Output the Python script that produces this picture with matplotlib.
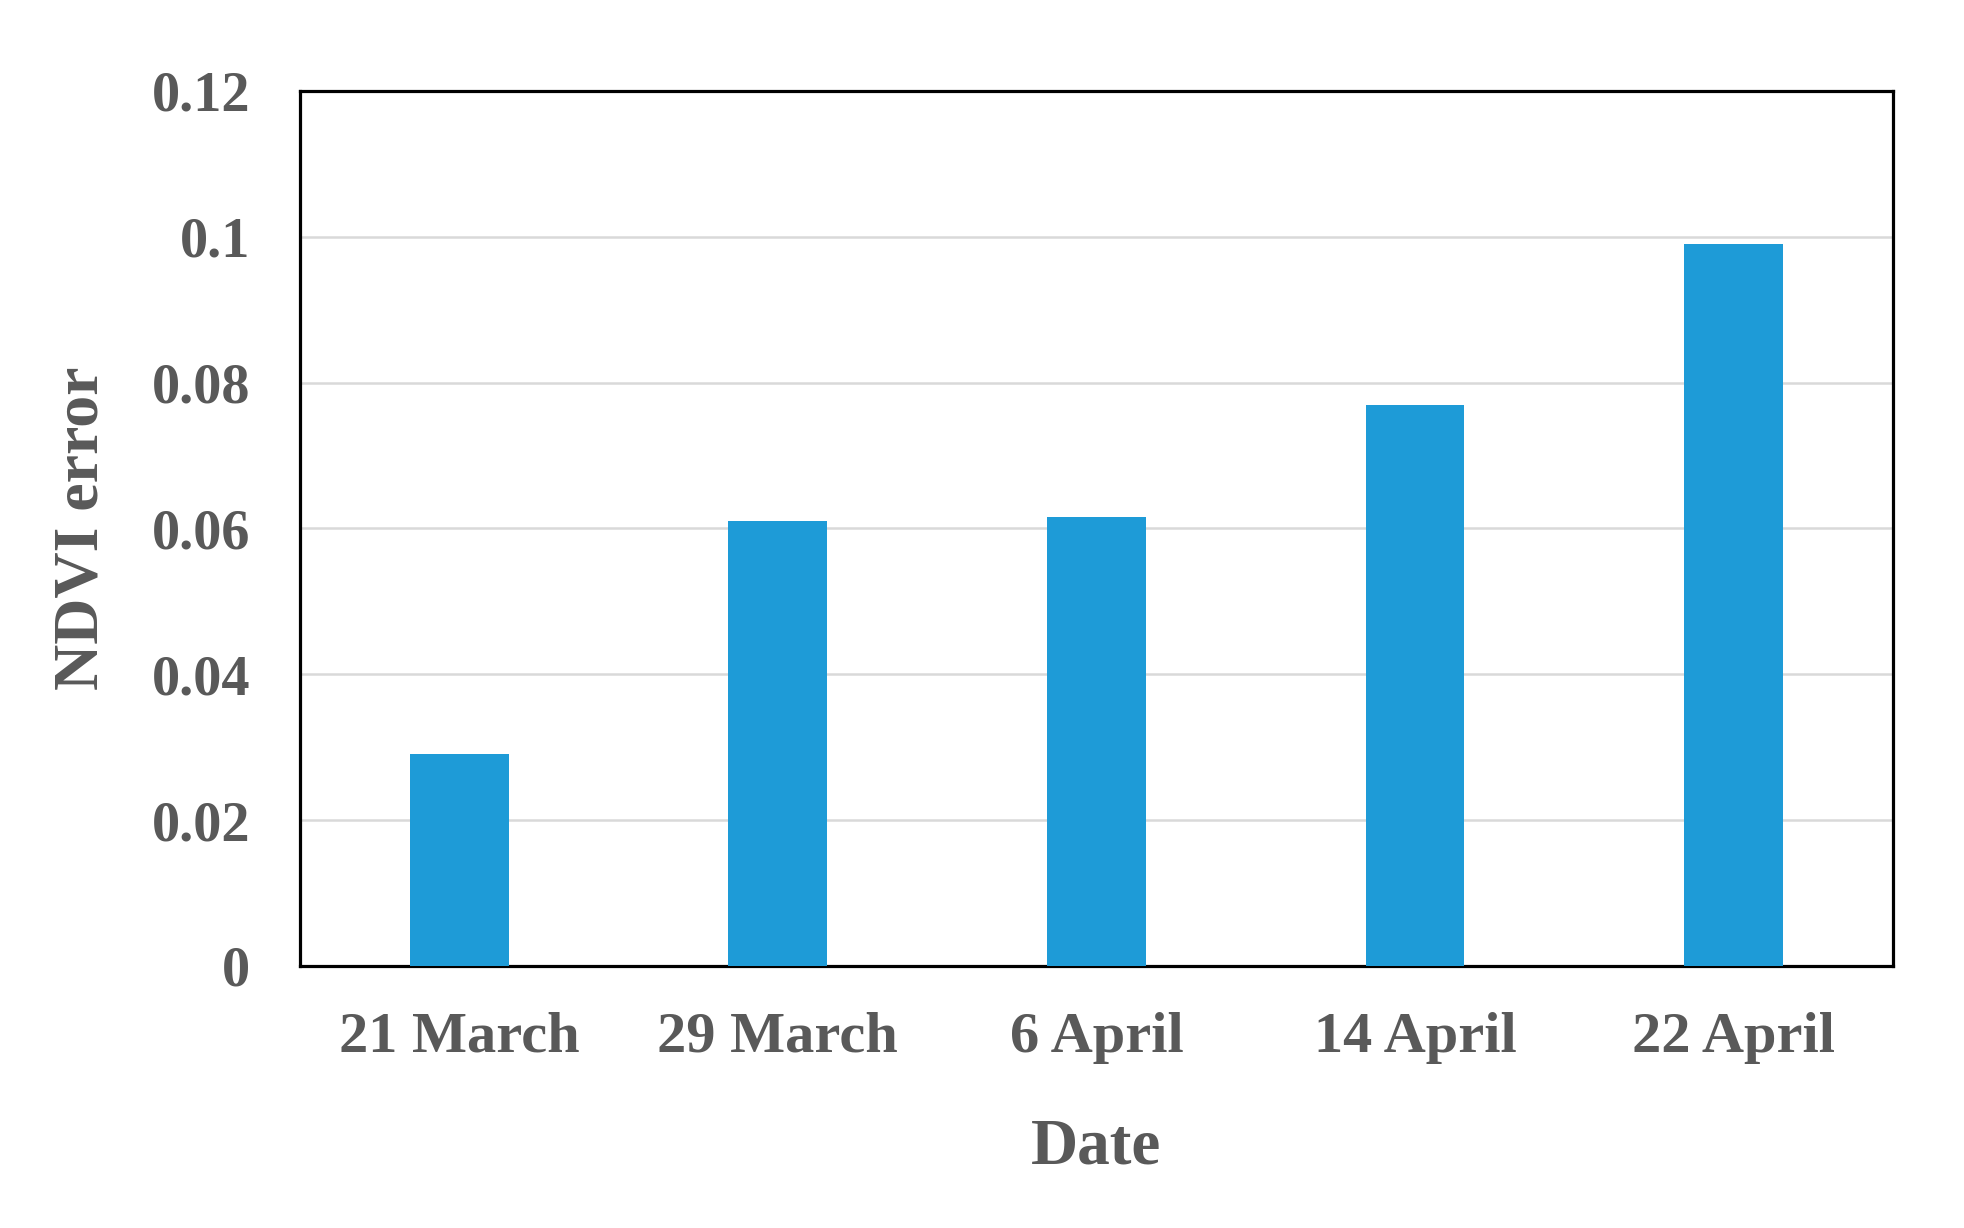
#!/usr/bin/env python3
"""
Bar chart: NDVI error per acquisition date
"""

import matplotlib
matplotlib.use('Agg')
import matplotlib.pyplot as plt

# Data
dates = ['21 March', '29 March', '6 April', '14 April', '22 April']
ndvi_error = [0.029, 0.061, 0.0616, 0.077, 0.099]
y_ticks = [0, 0.02, 0.04, 0.06, 0.08, 0.1, 0.12]
y_tick_labels = ['0', '0.02', '0.04', '0.06', '0.08', '0.1', '0.12']

TEXT_COLOR = '#595959'
BAR_COLOR = '#1E9BD7'
GRID_COLOR = '#D9D9D9'

plt.rcParams['font.family'] = ['Liberation Serif', 'DejaVu Serif']
plt.rcParams['font.weight'] = 'bold'

fig = plt.figure(figsize=(19.64, 12.28), dpi=100)
fig.patch.set_facecolor('white')
ax = fig.add_axes([0.1527, 0.2134, 0.8111, 0.7125])

positions = list(range(len(dates)))
ax.bar(positions, ndvi_error, width=0.31, color=BAR_COLOR, zorder=3)

# Axis limits and ticks
ax.set_xlim(-0.5, len(dates) - 0.5)
ax.set_ylim(0, 0.12)
ax.set_xticks(positions)
ax.set_xticklabels(dates, fontsize=42, fontweight='bold', color=TEXT_COLOR)
ax.set_yticks(y_ticks)
ax.set_yticklabels(y_tick_labels, fontsize=40.5, fontweight='bold', color=TEXT_COLOR)
ax.tick_params(axis='both', length=0)
ax.tick_params(axis='y', pad=36)
ax.tick_params(axis='x', pad=33)

# Horizontal grid only
ax.yaxis.grid(True, color=GRID_COLOR, linewidth=1.8)
ax.set_axisbelow(True)

# Frame
for spine in ax.spines.values():
    spine.set_linewidth(2.3)
    spine.set_color('black')

# Labels
ax.set_xlabel('Date', fontsize=47, fontweight='bold', color=TEXT_COLOR, labelpad=39)
ax.set_ylabel('NDVI error', fontsize=46, fontweight='bold', color=TEXT_COLOR, labelpad=29)

plt.savefig('out.png', dpi=100, facecolor='white')
plt.close(fig)
